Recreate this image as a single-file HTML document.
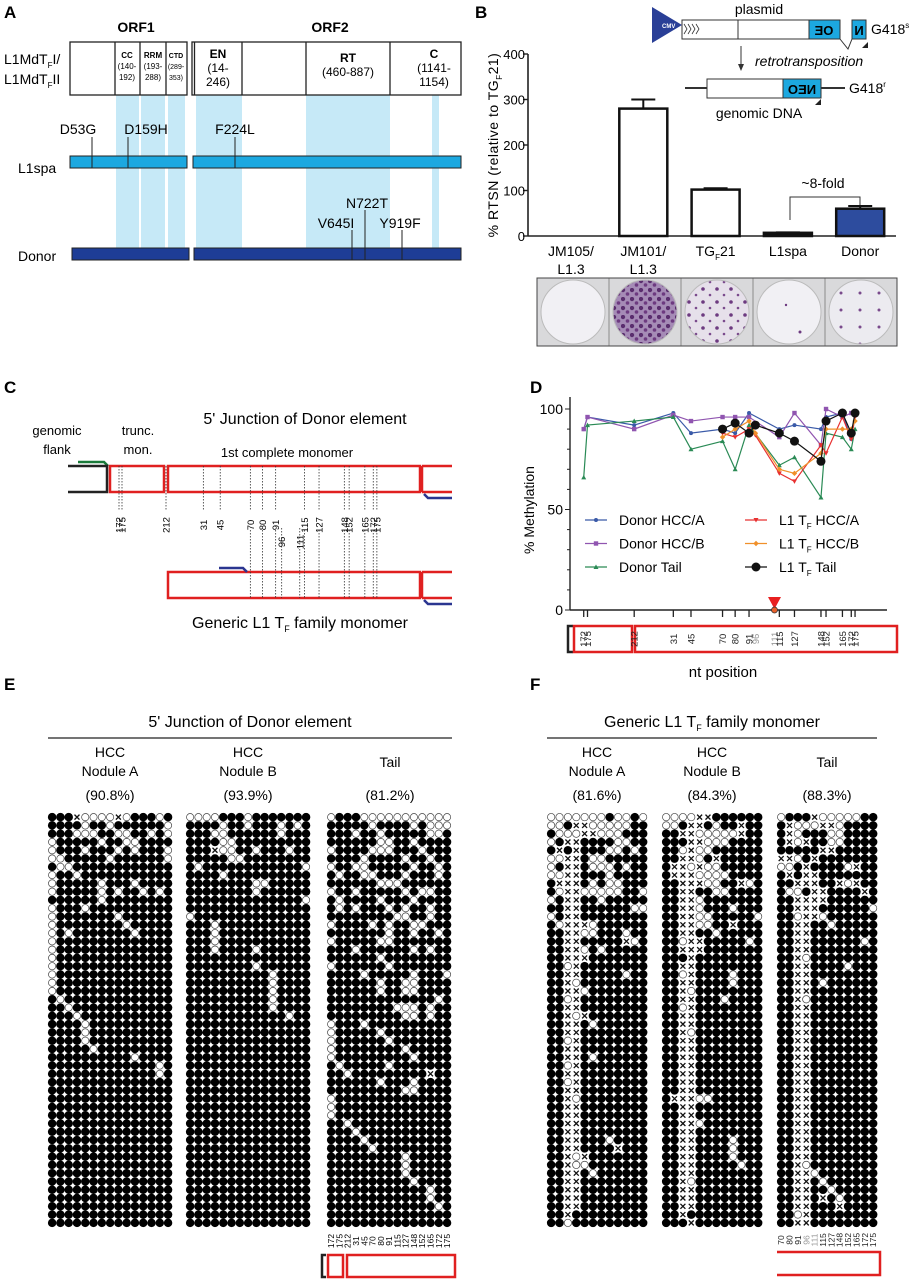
<!DOCTYPE html>
<html><head><meta charset="utf-8"><style>
html,body{margin:0;padding:0;background:#fff}
svg{display:block;font-family:"Liberation Sans",Arial,sans-serif}
</style></head><body>
<svg id="fig" width="919" height="1280" viewBox="0 0 919 1280" xmlns="http://www.w3.org/2000/svg">
<defs>
<pattern id="pDense" width="9" height="9" patternUnits="userSpaceOnUse"><rect width="9" height="9" fill="#a58bb6"/><circle cx="2" cy="2" r="2.2" fill="#5a2d6e"/><circle cx="6.5" cy="6" r="1.8" fill="#6d3a80"/></pattern>
<pattern id="pMed" width="14" height="13" patternUnits="userSpaceOnUse"><rect width="14" height="13" fill="#e6e0ea"/><circle cx="3" cy="3" r="1.8" fill="#6d3a80"/><circle cx="10" cy="9" r="1.3" fill="#7a4a8c"/></pattern>
<pattern id="pSparse" width="19" height="17" patternUnits="userSpaceOnUse"><rect width="19" height="17" fill="#ecebf0"/><circle cx="5" cy="4" r="1.5" fill="#7a4a8c"/></pattern>
</defs>

<!-- PANEL A -->
<g>
<text x="4" y="18" font-size="17" font-weight="bold">A</text>
<text x="136" y="32" font-size="14" font-weight="bold" text-anchor="middle">ORF1</text>
<text x="330" y="32" font-size="14" font-weight="bold" text-anchor="middle">ORF2</text>
<text x="4" y="64" font-size="14">L1MdT<tspan font-size="8" dy="4">F</tspan><tspan dy="-4">I/</tspan></text>
<text x="4" y="84" font-size="14">L1MdT<tspan font-size="8" dy="4">F</tspan><tspan dy="-4">II</tspan></text>
<g fill="#c6e9f7">
<rect x="116" y="95" width="23" height="153"/><rect x="141" y="95" width="24" height="153"/><rect x="168" y="95" width="17" height="153"/>
<rect x="196" y="95" width="46" height="153"/><rect x="306" y="95" width="84" height="153"/><rect x="432" y="95" width="7" height="153"/>
</g>
<g fill="#fff" stroke="#222" stroke-width="1.3">
<rect x="70" y="42" width="117" height="53"/><rect x="192" y="42" width="269" height="53"/>
<line x1="194.5" y1="42" x2="194.5" y2="95"/>
<line x1="115" y1="42" x2="115" y2="95"/><line x1="140" y1="42" x2="140" y2="95"/><line x1="166" y1="42" x2="166" y2="95"/>
<line x1="242" y1="42" x2="242" y2="95"/><line x1="306" y1="42" x2="306" y2="95"/><line x1="390" y1="42" x2="390" y2="95"/>
</g>
<g font-size="8" text-anchor="middle">
<text x="127" y="58" font-weight="bold">CC</text><text x="127" y="69">(140-</text><text x="127" y="80">192)</text>
<text x="153" y="58" font-weight="bold">RRM</text><text x="153" y="69">(193-</text><text x="153" y="80">288)</text>
<text x="176" y="58" font-weight="bold" font-size="7">CTD</text><text x="176" y="69" font-size="7">(289-</text><text x="176" y="80" font-size="7">353)</text>
<text x="218" y="58" font-size="12" font-weight="bold">EN</text><text x="218" y="72" font-size="12">(14-</text><text x="218" y="86" font-size="12">246)</text>
<text x="348" y="62" font-size="12" font-weight="bold">RT</text><text x="348" y="76" font-size="12">(460-887)</text>
<text x="434" y="58" font-size="12" font-weight="bold">C</text><text x="434" y="72" font-size="12">(1141-</text><text x="434" y="86" font-size="12">1154)</text>
</g>
<text x="18" y="173" font-size="14">L1spa</text>
<text x="18" y="261" font-size="14">Donor</text>
<g fill="#1ca8e0" stroke="#222" stroke-width="1">
<rect x="70" y="156" width="117" height="12"/><rect x="193" y="156" width="268" height="12"/></g>
<g fill="#1e3d96" stroke="#222" stroke-width="1">
<rect x="72" y="248" width="117" height="12"/><rect x="194" y="248" width="267" height="12"/></g>
<g stroke="#222" stroke-width="1">
<line x1="92" y1="137" x2="92" y2="168"/><line x1="128" y1="137" x2="128" y2="168"/><line x1="235" y1="137" x2="235" y2="168"/>
<line x1="352" y1="230" x2="352" y2="260"/><line x1="365" y1="210" x2="365" y2="260"/><line x1="402" y1="230" x2="402" y2="260"/>
</g>
<g font-size="14" text-anchor="middle">
<text x="78" y="134">D53G</text><text x="146" y="134">D159H</text><text x="235" y="134">F224L</text>
<text x="367" y="208">N722T</text><text x="336" y="228">V645I</text><text x="400" y="228">Y919F</text>
</g>
</g>

<!-- PANEL B -->
<g id="panelB">
<text x="475" y="18" font-size="17" font-weight="bold">B</text>
<text x="759" y="14" font-size="14" text-anchor="middle">plasmid</text>
<polygon points="652,7 652,43 682,25" fill="#2a3f97"/>
<text x="662" y="28" font-size="6" fill="#fff" font-weight="bold">CMV</text>
<rect x="682" y="20" width="158" height="19" fill="#fff" stroke="#333" stroke-width="1"/>
<line x1="738" y1="20" x2="738" y2="39" stroke="#333"/>
<path d="M684,24 l3,5 l-3,5 M688,24 l3,5 l-3,5 M692,24 l3,5 l-3,5 M696,24 l3,5 l-3,5" stroke="#333" fill="none" stroke-width="0.8"/>
<rect x="809" y="20" width="31" height="19" fill="#1ca8e0" stroke="#333"/>
<text x="824" y="35" font-size="13" font-weight="bold" text-anchor="middle" transform="scale(-1,1) translate(-1648,0)">OE</text>
<path d="M840,39 L848,49 L852,39" fill="none" stroke="#333"/>
<rect x="852" y="20" width="14" height="19" fill="#1ca8e0" stroke="#333"/>
<text x="859" y="35" font-size="13" font-weight="bold" text-anchor="middle">И</text>
<polygon points="862,48 868,42 868,48" fill="#222"/>
<text x="871" y="34" font-size="14">G418<tspan font-size="8" dy="-6">s</tspan></text>
<line x1="741" y1="46" x2="741" y2="68" stroke="#333"/><polygon points="738,64 744,64 741,71" fill="#333"/>
<text x="755" y="66" font-size="14" font-style="italic">retrotransposition</text>
<line x1="685" y1="88" x2="845" y2="88" stroke="#333" stroke-width="2"/>
<rect x="707" y="79" width="114" height="19" fill="#fff" stroke="#333"/>
<rect x="783" y="79" width="38" height="19" fill="#1ca8e0" stroke="#333"/>
<text x="802" y="94" font-size="13" font-weight="bold" text-anchor="middle" transform="scale(-1,1) translate(-1604,0)">NEO</text>
<polygon points="815,105 821,99 821,105" fill="#222"/>
<text x="849" y="93" font-size="14">G418<tspan font-size="8" dy="-6">r</tspan></text>
<text x="759" y="118" font-size="14" text-anchor="middle">genomic DNA</text>
<text transform="translate(498,145) rotate(-90)" font-size="14" text-anchor="middle" letter-spacing="0.5">% RTSN (relative to TG<tspan font-size="8" dy="4">F</tspan><tspan dy="-4">21)</tspan></text>
<g id="bAxis"></g>
<g id="bBars"></g>
<text x="823" y="188" font-size="14" text-anchor="middle">~8-fold</text>
<path d="M790,220 L790,197 L860,197 L860,205" fill="none" stroke="#333"/>
<g>
<rect x="537" y="278" width="360" height="68" fill="#d9d9db" stroke="#444"/>
<g stroke="#555" stroke-width="0.6">
<line x1="609" y1="278" x2="609" y2="346"/><line x1="681" y1="278" x2="681" y2="346"/><line x1="753" y1="278" x2="753" y2="346"/><line x1="825" y1="278" x2="825" y2="346"/></g>
<circle cx="573" cy="312" r="32" fill="#f1f0f4" stroke="#bbb"/>
<circle cx="645" cy="312" r="32" fill="url(#pDense)" stroke="#bbb"/>
<circle cx="717" cy="312" r="32" fill="url(#pMed)" stroke="#bbb"/>
<circle cx="789" cy="312" r="32" fill="#f1f0f4" stroke="#bbb"/>
<circle cx="786" cy="305" r="1.2" fill="#6d3a80"/><circle cx="800" cy="332" r="1.5" fill="#6d3a80"/>
<circle cx="861" cy="312" r="32" fill="url(#pSparse)" stroke="#bbb"/>
</g>
</g>

<!-- PANEL C -->
<g>
<text x="4" y="393" font-size="17" font-weight="bold">C</text>
<text x="305" y="424" font-size="16" text-anchor="middle">5' Junction of Donor element</text>
<text x="57" y="435" font-size="13" text-anchor="middle">genomic</text>
<text x="57" y="454" font-size="13" text-anchor="middle">flank</text>
<text x="138" y="435" font-size="13" text-anchor="middle">trunc.</text>
<text x="138" y="454" font-size="13" text-anchor="middle">mon.</text>
<text x="287" y="457" font-size="13" text-anchor="middle">1st complete monomer</text>
<path d="M78,462 L104,462 L108,466" fill="none" stroke="#1a7a3a" stroke-width="2.5"/>
<path d="M68,466 L107,466 L107,492 L68,492" fill="none" stroke="#222" stroke-width="2.5"/>
<g fill="none" stroke="#e02020" stroke-width="2.5">
<rect x="110" y="466" width="54" height="26"/><rect x="168" y="466" width="252" height="26"/>
<path d="M422,466 L452,466 M422,492 L452,492 M422,466 L422,492"/>
<rect x="168" y="572" width="252" height="26"/>
<path d="M422,572 L452,572 M422,598 L452,598 M422,572 L422,598"/>
</g>
<path d="M452,498 L428,498 L424,494" fill="none" stroke="#2a3590" stroke-width="2.5"/>
<path d="M452,604 L428,604 L424,600" fill="none" stroke="#2a3590" stroke-width="2.5"/>
<path d="M219,568 L243,568 L247,572" fill="none" stroke="#2a3590" stroke-width="2.5"/>
<g id="cLines" stroke="#333" stroke-width="0.8" stroke-dasharray="1.5,1.5"></g>
<g id="cLabels" font-size="9.5"></g>
<text x="300" y="628" font-size="16" text-anchor="middle">Generic L1 T<tspan font-size="9" dy="4">F</tspan><tspan dy="-4"> family monomer</tspan></text>
</g>

<!-- PANEL D -->
<g id="panelD">
<text x="530" y="393" font-size="17" font-weight="bold">D</text>
<text transform="translate(534,510) rotate(-90)" font-size="14" text-anchor="middle">% Methylation</text>
<g id="dAxis"></g>
<g id="dSeries"></g>
<polygon points="768,597 781,597 774.5,609" fill="#e82020"/>
<circle cx="774.5" cy="610" r="3" fill="#e8602a" stroke="#333" stroke-width="0.8"/>
<g fill="none" stroke-width="2.5">
<path d="M573,626 L568,626 L568,652 L573,652" stroke="#222"/>
<rect x="574" y="626" width="58" height="26" stroke="#e02020"/>
<rect x="635" y="626" width="262" height="26" stroke="#e02020"/>
</g>
<g id="dLabels" font-size="9.5"></g>
<text x="723" y="677" font-size="15" text-anchor="middle">nt position</text>
<g id="dLegend" font-size="14"></g>
</g>

<!-- PANELS E/F -->
<g>
<text x="4" y="690" font-size="17" font-weight="bold">E</text>
<text x="250" y="727" font-size="16" text-anchor="middle">5' Junction of Donor element</text>
<line x1="48" y1="738" x2="452" y2="738" stroke="#222" stroke-width="1.3"/>
<g font-size="14" text-anchor="middle">
<text x="110" y="757">HCC</text><text x="110" y="776">Nodule A</text><text x="110" y="800">(90.8%)</text>
<text x="248" y="757">HCC</text><text x="248" y="776">Nodule B</text><text x="248" y="800">(93.9%)</text>
<text x="390" y="767">Tail</text><text x="390" y="800">(81.2%)</text>
</g>
<path d="M326,1255 L322,1255 L322,1277 L326,1277" fill="none" stroke="#222" stroke-width="2.5"/>
<rect x="328" y="1255" width="15" height="22" fill="none" stroke="#e02020" stroke-width="2.5"/>
<rect x="347" y="1255" width="108" height="22" fill="none" stroke="#e02020" stroke-width="2.5"/>
</g>
<g>
<text x="530" y="690" font-size="17" font-weight="bold">F</text>
<text x="712" y="727" font-size="16" text-anchor="middle">Generic L1 T<tspan font-size="9" dy="4">F</tspan><tspan dy="-4"> family monomer</tspan></text>
<line x1="547" y1="738" x2="877" y2="738" stroke="#222" stroke-width="1.3"/>
<g font-size="14" text-anchor="middle">
<text x="597" y="757">HCC</text><text x="597" y="776">Nodule A</text><text x="597" y="800">(81.6%)</text>
<text x="712" y="757">HCC</text><text x="712" y="776">Nodule B</text><text x="712" y="800">(84.3%)</text>
<text x="827" y="767">Tail</text><text x="827" y="800">(88.3%)</text>
</g>
<path d="M777,1252 L880,1252 L880,1275 L777,1275" fill="none" stroke="#e02020" stroke-width="2.5"/>
</g>
<g id="grids"></g>
<g id="gridLabels" font-size="8.5"></g>
</svg>
<script>
var NS="http://www.w3.org/2000/svg";
function mk(tag,attrs,parent){var e=document.createElementNS(NS,tag);for(var k in attrs)e.setAttribute(k,attrs[k]);parent.appendChild(e);return e;}

// ---- Panel B data ----
var bCategories=["JM105/L1.3","JM101/L1.3","TGF21","L1spa","Donor"];
var bValues=[0,280,102,7,60];
var bErrors=[0,20,3,1,6];
var bTicks=[0,100,200,300,400];
var bFills=["#fff","#fff","#fff","#111","#2d4c9e"];

// ---- Panel D data ----
var dDonorPos=[-40,-37,0,31,45,70,80,91,115,127,148,152,165,172,175];
var dDonorHCCA=[90,96,92,98,88,90,88,98,90,92,90,96,98,85,98];
var dDonorHCCB=[90,96,90,97,94,96,96,96,86,98,82,100,96,98,98];
var dDonorTail=[66,92,94,96,80,84,70,92,72,76,56,88,86,80,90];
var dL1Pos=[70,80,91,96,115,127,148,152,165,172,175];
var dL1HCCA=[88,86,90,87,68,64,82,78,96,85,96];
var dL1HCCB=[86,90,94,88,70,68,78,90,90,90,94];
var dL1Tail=[90,93,88,92,88,84,74,94,98,88,98];
var dYTicks=[0,50,100];
var dTickLabels=["172","175","212","31","45","70","80","91","96","111","115","127","148","152","165","172","175"];
var dTickPos=[-40,-37,0,31,45,70,80,91,96,111,115,127,148,152,165,172,175];

// ---- Methylation grids ('1' methylated, '0' unmethylated, 'x' no CpG) ----
var gridEA=["111x0000x011101","111101101111110","111000110011010","011111011001111","011101110101110","001111101111110","100111111111111","011011111111111","011111011101111","011111010110101","111111011111111","011101111111111","011111110111111","011111111011111","010111111101111","011111111111111","011111111111111","011111111111111","011111111111111","011111111111111","011111111111111","011111111111111","101111111111111","110111111111111","111011111111111","111101111111111","111101111111111","111101111111111","111110111111111","111111111101111","111111111111101","111111111111101","111111111111111","111111111111111","111111111111111","111111111111111","111111111111111","111111111111111","111111111111111","111111111111111","111111111111111","111111111111111","111111111111111","111111111111111","111111111111111","111111111111111","111111111111111","111111111111111","111111111111111","111111111111111"];
var gridEB=["000011101111111","111101101110101","111001111110111","111100111111111","111x00110111011","111110011111111","101111111111110","111101111111111","111111110011111","111111110111111","111111111111110","111111111111111","011111111111111","111011111111111","111011111111111","111011111111111","111011110111111","111111111111111","111111110111111","111111111101111","111111111101111","111111111101111","111111111101111","111111111101111","111111111111011","111111111111111","111111111111111","111111111111111","111111111111111","111111111111111","111111111111111","111111111111111","111111111111111","111111111111111","111111111111111","111111111111111","111111111111111","111111111111111","111111111111111","111111111111111","111111111111111","111111111111111","111111111111111","111111111111111","111111111111111","111111111111111","111111111111111","111111111111111","111111111111111","111111111111111"];
var gridET=["011100000000000","111110111101000","111011011111001","111111001101111","011110001110111","111101111011011","011001111101101","101100111011101","111111000111111","011011111010011","101111011101111","101011101011011","111111110011011","011110101100111","111111101101101","011111001111111","111011111101011","111111011111111","011111101111111","111101111101110","111111011001111","111111011001111","111111111111101","111111110001011","111111111001011","011101111111111","011111011111111","011111101111111","011111111011111","011111111101111","101111101111111","110111111111x11","111111011101111","111111111001111","011111111111111","011111111111111","011111111111111","110111111111111","111011111111111","111101111111111","111110111111111","111111111011111","111111111011111","111111111011111","111111111101111","111111111111011","111111111111011","111111111111101","111111111111111","111111111111111"];
var gridFA=["000000010010","001xx0000011","1000xx000111","01xx11110011","1x1x11100101","00xx10011111","01xx10001011","00xx11101111","1xxx10100111","10xx00000110","01xx11011111","11xx11111100","01xx11111111","10xxx0111111","11xx00111011","11xx11111x01","11xx01011111","11xxx1111111","110x11111111","11xx11111011","11x011111111","11xx01111111","110x11111111","11xx11111111","11x0x1111111","11xx10111111","11xx11111111","110x11111111","11xx11111111","11xx10111111","110x11111111","11xx11111111","110x11111111","11xx11111111","11x011111111","11xx11111111","11xx11111111","11xx11111111","11xx11111111","11xx11101111","11xx1111x111","11x0x1111111","11x001111111","11xx10111111","11xx11111111","11xx11111111","11xx11111111","11xx11111111","11x111111111","110111111111"];
var gridFB=["0000xx111111","001xx1011x11","11xx00000x11","111xx0001111","110x00111111","11xx01x11111","1xx0x0011111","1xxx00001111","11xxx0011x01","11xx11001111","11xx01111111","11xx01110111","11xx00111110","11xx0011x111","11xx11011111","110xx1111101","11xxx1111111","111x11111111","11xx11111111","110x11110111","11xx11110111","11x011111111","11xx11101111","110x11111111","11xx11111111","11xx11111111","11x011111111","11xx11111111","11xx11111111","11xx11111111","11xx11111111","11xx11111111","11xx11111111","11xx11111111","1xxx00111111","11xx11111111","11xx11111111","11xx01111111","11xx11111111","11xx11110111","11xx11110111","11xx11110111","11xx11111011","11xx11111111","11x011111111","11xx11111111","11xx11111111","11xx11111111","11x111111111","111x11111111"];
var gridFC=["0111x0000011","1x000xx01111","1x0111001111","1x0x11001111","11111xx11111","xx01x1111111","001x11110x11","1x1xx1111111","11xxx11x0x11","1001xx1111x1","11xxxx111111","11xxx1111110","110xx0111111","11xx11011111","11xx11111111","11xx11111101","11xx11111111","11x011111111","11xx11110111","11xx11111111","11xx10111111","11xx11111111","11x011111111","11xx11111111","11xx11111111","11xx11111111","11xx11111111","11xx11111111","11xx11111111","11xx11111111","11xx11111111","11xx11111111","11xx11111111","11xx11111111","11xx11111111","11xx11111111","11xx11111111","11xx11111111","11xx11111111","11xx11111111","11xx11111111","11xx11111111","11x011111111","11xx01111111","11xx10111111","11xx11011111","11xx1x101111","11xx111x1111","110x11111111","11xx11111111"];
var eLabels=["172","175","212","31","45","70","80","91","115","127","148","152","165","172","175"];
var fLabels=["70","80","91","96","111","115","127","148","152","165","172","175"];

// Panel B scales
var bY0=236, bPx=45.5/100, bAxX=528;
function bY(v){return bY0-v*bPx;}
function bX(i){return 571+i*72.3;}
var bAxis=document.getElementById('bAxis');
var yax=mk('line',{x1:bAxX,y1:bY(0),x2:bAxX,y2:bY(400),stroke:'#222','stroke-width':1.6},bAxis);


var xax=mk('line',{x1:bAxX,y1:bY(0),x2:896,y2:bY(0),stroke:'#222','stroke-width':1.6},bAxis);


bTicks.forEach(function(t){
  mk('line',{x1:bAxX-5,y1:bY(t),x2:bAxX,y2:bY(t),stroke:'#222','stroke-width':1.4},bAxis);
  var tx=mk('text',{x:bAxX-3,y:bY(t)+5,'font-size':13,'text-anchor':'end'},bAxis);tx.textContent=t;
  
  
});
var bBars=document.getElementById('bBars');
bCategories.forEach(function(c,i){
  var cx=bX(i),w=48;
  if(bValues[i]>0){
    var r=mk('rect',{x:cx-w/2,y:bY(bValues[i]),width:w,height:bY(0)-bY(bValues[i]),fill:bFills[i],stroke:'#111','stroke-width':2.5},bBars);
    
    
    mk('line',{x1:cx,y1:bY(bValues[i]),x2:cx,y2:bY(bValues[i]+bErrors[i]),stroke:'#111','stroke-width':2},bBars);
    mk('line',{x1:cx-12,y1:bY(bValues[i]+bErrors[i]),x2:cx+12,y2:bY(bValues[i]+bErrors[i]),stroke:'#111','stroke-width':2},bBars);
  }
  var parts=c==="TGF21"?null:c.split('/');
  var t=mk('text',{x:cx,y:256,'font-size':14,'text-anchor':'middle'},bBars);
  
  
  if(c==="TGF21"){t.innerHTML='TG<tspan font-size="8" dy="4">F</tspan><tspan dy="-4">21</tspan>';}
  else if(parts.length>1){t.textContent=parts[0]+'/';var t2=mk('text',{x:cx,y:274,'font-size':14,'text-anchor':'middle'},bBars);t2.textContent=parts[1];}
  else t.textContent=c;
});

// Panel C lines
var cPos=[-40,-37,0,31,45,70,80,91,96,111,115,127,148,152,165,172,175];
function cX(v){
  if(v===-40) return 119;
  if(v===-37) return 122;
  return 166+v*1.205;
}
var cLines=document.getElementById('cLines'),cLabels=document.getElementById('cLabels');
cPos.forEach(function(p,i){
  var x=cX(p);
  var lower=(p===96||p===111);
  if(!lower) mk('line',{x1:x,y1:466,x2:x,y2:510},cLines);
  if(p>=70) mk('line',{x1:x,y1:lower?528:530,x2:x,y2:598},cLines);
  var ty=lower?542:525;
  var t=mk('text',{transform:'translate('+(x+3.5)+','+ty+') rotate(-90)','text-anchor':'middle'},cLabels);
  t.textContent=dTickLabels[i];
});

// Panel D
function dX(p){return 634.2+p*1.262;}
function dY(v){return 610-v*2.01;}
var dAxis=document.getElementById('dAxis');
var dya=mk('line',{x1:570,y1:dY(0),x2:570,y2:dY(106),stroke:'#222','stroke-width':1.4},dAxis);


var dxa=mk('line',{x1:570,y1:dY(0),x2:887,y2:dY(0),stroke:'#222','stroke-width':1.4},dAxis);


for(var v=0;v<=100;v+=10) mk('line',{x1:v%50===0?565:567,y1:dY(v),x2:570,y2:dY(v),stroke:'#222','stroke-width':1},dAxis);
dYTicks.forEach(function(t){var tx=mk('text',{x:563,y:dY(t)+5,'font-size':14,'text-anchor':'end'},dAxis);tx.textContent=t;});
dTickPos.forEach(function(p,i){
  if(p!==96&&p!==111) mk('line',{x1:dX(p),y1:610,x2:dX(p),y2:617,stroke:'#222','stroke-width':1.3},dAxis);
  var t=mk('text',{transform:'translate('+(dX(p)+3.5)+',639) rotate(-90)','text-anchor':'middle',fill:(p===96||p===111)?'#999':'#222'},document.getElementById('dLabels'));
  t.textContent=dTickLabels[i];
});
function marker(g,type,x,y,col){
  if(type==='circle') mk('circle',{cx:x,cy:y,r:2,fill:col},g);
  else if(type==='square') mk('rect',{x:x-2.2,y:y-2.2,width:4.4,height:4.4,fill:col},g);
  else if(type==='tri') mk('polygon',{points:(x-2.5)+','+(y+2)+' '+(x+2.5)+','+(y+2)+' '+x+','+(y-2.5),fill:col},g);
  else if(type==='itri') mk('polygon',{points:(x-2.5)+','+(y-2)+' '+(x+2.5)+','+(y-2)+' '+x+','+(y+2.5),fill:col},g);
  else if(type==='diamond') mk('polygon',{points:x+','+(y-2.7)+' '+(x+2.7)+','+y+' '+x+','+(y+2.7)+' '+(x-2.7)+','+y,fill:col},g);
  else if(type==='big') mk('circle',{cx:x,cy:y,r:4.5,fill:col},g);
}
var series=[
  {name:'Donor HCC/A',pos:dDonorPos,val:dDonorHCCA,col:'#3a5aa8',m:'circle',key:'donor-hcc-a'},
  {name:'Donor HCC/B',pos:dDonorPos,val:dDonorHCCB,col:'#9055b0',m:'square',key:'donor-hcc-b'},
  {name:'Donor Tail',pos:dDonorPos,val:dDonorTail,col:'#2a8a55',m:'tri',key:'donor-tail'},
  {name:'L1 TF HCC/A',pos:dL1Pos,val:dL1HCCA,col:'#e83030',m:'itri',key:'l1tf-hcc-a'},
  {name:'L1 TF HCC/B',pos:dL1Pos,val:dL1HCCB,col:'#f0902a',m:'diamond',key:'l1tf-hcc-b'},
  {name:'L1 TF Tail',pos:dL1Pos,val:dL1Tail,col:'#111',m:'big',key:'l1tf-tail'}
];
var dS=document.getElementById('dSeries');
series.forEach(function(s){
  var g=mk('g',{},dS);
  
  
  var pts=s.pos.map(function(p,i){return dX(p)+','+dY(s.val[i]);}).join(' ');
  mk('polyline',{points:pts,fill:'none',stroke:s.col,'stroke-width':1.2},g);
  s.pos.forEach(function(p,i){marker(g,s.m,dX(p),dY(s.val[i]),s.col);});
});
var dL=document.getElementById('dLegend');
series.forEach(function(s,i){
  var col=i<3?0:1,row=i%3;
  var lx=col?745:585,ly=520+row*23.5;
  var g=mk('g',{},dL);
  
  
  mk('line',{x1:lx,y1:ly,x2:lx+22,y2:ly,stroke:s.col,'stroke-width':1.2},g);
  marker(g,s.m,lx+11,ly,s.col);
  var t=mk('text',{x:lx+34,y:ly+5},g);
  if(i<3) t.textContent=s.name;
  else t.innerHTML='L1 T<tspan font-size="8" dy="4">F</tspan><tspan dy="-4"> '+s.name.slice(6)+'</tspan>';
});

// Grids
var grids=[
  {d:gridEA,x:48,p:8.28,key:'e-hcc-a'},{d:gridEB,x:186,p:8.28,key:'e-hcc-b'},{d:gridET,x:327,p:8.28,key:'e-tail'},
  {d:gridFA,x:547,p:8.36,key:'f-hcc-a'},{d:gridFB,x:662,p:8.36,key:'f-hcc-b'},{d:gridFC,x:777,p:8.36,key:'f-tail'}
];
var G=document.getElementById('grids');
grids.forEach(function(gr){
  var g=mk('g',{},G);
  
  
  var r=gr.p/2;
  gr.d.forEach(function(row,ri){
    for(var ci=0;ci<row.length;ci++){
      var cx=gr.x+r+ci*gr.p,cy=813+4.14+ri*8.28,ch=row[ci];
      if(ch==='1'){
        mk('circle',{cx:cx,cy:cy,r:r+0.1,fill:'#000'},g);}
      else{
        if(ch==='0') mk('circle',{cx:cx,cy:cy,r:r-0.5,fill:'#fff',stroke:'#444','stroke-width':0.7},g);
        else mk('path',{d:'M'+(cx-2.5)+','+(cy-2.5)+'L'+(cx+2.5)+','+(cy+2.5)+'M'+(cx+2.5)+','+(cy-2.5)+'L'+(cx-2.5)+','+(cy+2.5),stroke:'#111','stroke-width':1.3},g);
      }
    }
  });
});
var GL=document.getElementById('gridLabels');
eLabels.forEach(function(l,i){var t=mk('text',{transform:'translate('+(327+4.14+i*8.28+3)+',1241) rotate(-90)','text-anchor':'middle'},GL);t.textContent=l;});
fLabels.forEach(function(l,i){var t=mk('text',{transform:'translate('+(777+4.18+i*8.36+3)+',1240) rotate(-90)','text-anchor':'middle',fill:(l==='96'||l==='111')?'#999':'#222'},GL);t.textContent=l;});
</script>
</body></html>
